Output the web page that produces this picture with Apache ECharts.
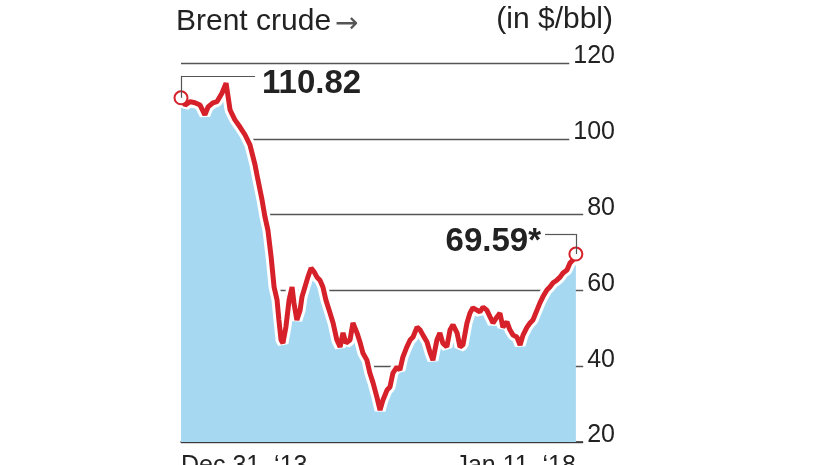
<!DOCTYPE html>
<html>
<head>
<meta charset="utf-8">
<script src="https://cdn.jsdelivr.net/npm/echarts@6/dist/echarts.min.js"></script>
<style>
  html, body { margin: 0; padding: 0; background: #fff; }
  #chart { width: 826px; height: 465px; }
</style>
</head>
<body>
<div id="chart"></div>
<script>
// days since Dec 31 2013
var days = [0, 15, 34, 52, 71, 89, 101, 119, 134, 153, 168, 183, 201, 220, 239, 257, 276, 287, 302, 313,
  324, 336, 347, 358, 365, 373, 380, 391, 403, 414, 421, 432, 444, 451, 462, 473, 485, 496, 507, 518,
  529, 540, 552, 567, 581, 593, 604, 615, 630, 641, 656, 667, 678, 693, 704, 716, 730, 742, 753, 768,
  779, 790, 805, 816, 827, 842, 854, 865, 880, 891, 902, 917, 928, 939, 954, 965, 976, 991, 1003, 1014,
  1029, 1040, 1051, 1066, 1077, 1088, 1103, 1114, 1126, 1140, 1152, 1163, 1178, 1189, 1200, 1215, 1226, 1238, 1252, 1264,
  1275, 1290, 1301, 1312, 1327, 1338, 1349, 1364, 1375, 1387, 1401, 1413, 1424, 1439, 1450, 1461, 1472];
// Brent price ($/bbl)
var prices = [110.82, 108.9, 109.8, 109.5, 108.9, 106.3, 108.4, 109.5, 109.8, 112.1, 114.7, 107.6, 105.0, 103.1, 101.0, 98.4, 93.1, 89.1, 83.9, 79.4,
  75.9, 68.8, 60.9, 57.5, 52.2, 46.9, 46.1, 50.3, 57.5, 60.9, 56.7, 52.2, 54.8, 58.3, 60.9, 63.5, 65.9, 64.9, 63.5, 62.7,
  60.9, 57.5, 54.8, 51.4, 46.9, 45.1, 48.8, 46.1, 46.9, 51.4, 48.8, 46.4, 43.5, 41.6, 38.2, 35.6, 31.9, 28.4, 31.1, 33.7,
  34.5, 38.2, 39.8, 39.0, 42.4, 45.1, 46.9, 47.7, 50.3, 49.6, 48.2, 46.4, 43.7, 41.6, 46.9, 48.8, 46.1, 45.1, 49.6, 50.9,
  48.8, 45.1, 45.6, 51.4, 54.0, 55.4, 54.8, 54.3, 55.6, 54.8, 53.0, 51.4, 53.0, 54.0, 50.3, 51.7, 49.6, 48.2, 47.7, 45.6,
  48.2, 50.3, 51.4, 52.2, 54.8, 56.7, 58.3, 60.1, 60.9, 62.0, 62.7, 63.5, 64.6, 65.4, 67.2, 68.0, 69.59];

var xLabels = ["Dec 31, \u201813", "Jan 11, \u201818"];
var yTicks = [20, 40, 60, 80, 100, 120];
var startLabel = "110.82";
var endLabel = "69.59*";

var red = "#d6202a";
var blue = "#a6d8f2";
var ink = "#222";
var font = "'Liberation Sans', sans-serif";

var last = days.length - 1;
var lineData = days.map(function (d, i) { return [d, prices[i]]; });
var redData = days.map(function (d, i) {
  var isEnd = i === 0 || i === last;
  return {
    value: [d, prices[i]],
    symbol: isEnd ? "circle" : "none",
    symbolSize: isEnd ? 13 : 0
  };
});

var chart = echarts.init(document.getElementById("chart"));
chart.setOption({
  animation: false,
  backgroundColor: "#fff",
  title: [
    {
      text: "{a|Brent crude}{b|\u2192}",
      left: 171, top: 0,
      textStyle: {
        fontWeight: "normal",
        rich: {
          a: { fontFamily: font, fontSize: 30, color: ink, fontWeight: "normal" },
          b: { fontFamily: "'DejaVu Sans'", fontSize: 28, color: "#555", fontWeight: "normal", padding: [6, 0, 0, 4] }
        }
      }
    },
    {
      text: "(in $/bbl)",
      right: 208, top: 0,
      textStyle: { fontFamily: font, fontSize: 30, color: ink, fontWeight: "normal" }
    }
  ],
  grid: { left: 181, right: 241, top: 63, bottom: 23, outerBoundsMode: "none", containLabel: false },
  xAxis: {
    type: "value",
    min: 0, max: 1506,
    axisLine: { show: true, lineStyle: { color: "#333", width: 1.5 } },
    axisTick: { show: false },
    splitLine: { show: false },
    axisLabel: {
      customValues: [days[0], days[last]],
      formatter: function (v) { return v === days[0] ? xLabels[0] : xLabels[1]; },
      alignMinLabel: "left",
      alignMaxLabel: "right",
      fontFamily: font, fontSize: 25, color: ink, margin: 12
    }
  },
  yAxis: {
    type: "value",
    position: "right",
    min: yTicks[0], max: yTicks[yTicks.length - 1], interval: 20,
    axisLine: { show: false },
    axisTick: { show: false },
    splitLine: { show: true, lineStyle: { color: "#555", width: 1.3 } },
    axisLabel: {
      formatter: function (v) { return "{v|" + v + "}"; },
      align: "right", verticalAlign: "middle", margin: 30,
      backgroundColor: "#fff", padding: [0, 0, 0, 4],
      rich: {
        v: { fontFamily: font, fontSize: 25, color: ink, lineHeight: 18, padding: [0, 0, 13, 0] }
      }
    }
  },
  series: [
    {
      type: "line",
      data: lineData,
      showSymbol: false,
      lineStyle: { color: "#fff", width: 11 },
      areaStyle: { color: blue, opacity: 1, origin: "start" },
      z: 2
    },
    {
      type: "line",
      data: redData,
      lineStyle: { color: red, width: 5 },
      itemStyle: { color: "#fff", borderColor: red, borderWidth: 2 },
      z: 3,
      markLine: {
        symbol: "none",
        silent: true,
        lineStyle: { color: "#555", width: 1.2, type: "solid" },
        label: { show: false },
        data: [
          [{ coord: [days[0], prices[0]] }, { coord: [days[0], 116.6] }],
          [{ coord: [days[0], 116.6] }, { coord: [276, 116.6] }],
          [{ coord: [days[last], prices[last]] }, { coord: [days[last], 74.9] }],
          [{ coord: [days[last], 74.9] }, { coord: [1357, 74.9] }]
        ]
      },
      markPoint: {
        symbol: "circle", symbolSize: 0, silent: true,
        data: [
          { coord: [302, 114.5], label: { formatter: startLabel, position: "right", distance: 0 } },
          { coord: [1342, 72.8], label: { formatter: endLabel, position: "left", distance: 0 } }
        ],
        label: { show: true, fontFamily: font, fontWeight: "bold", fontSize: 33, color: ink }
      }
    }
  ]
});
</script>
</body>
</html>
